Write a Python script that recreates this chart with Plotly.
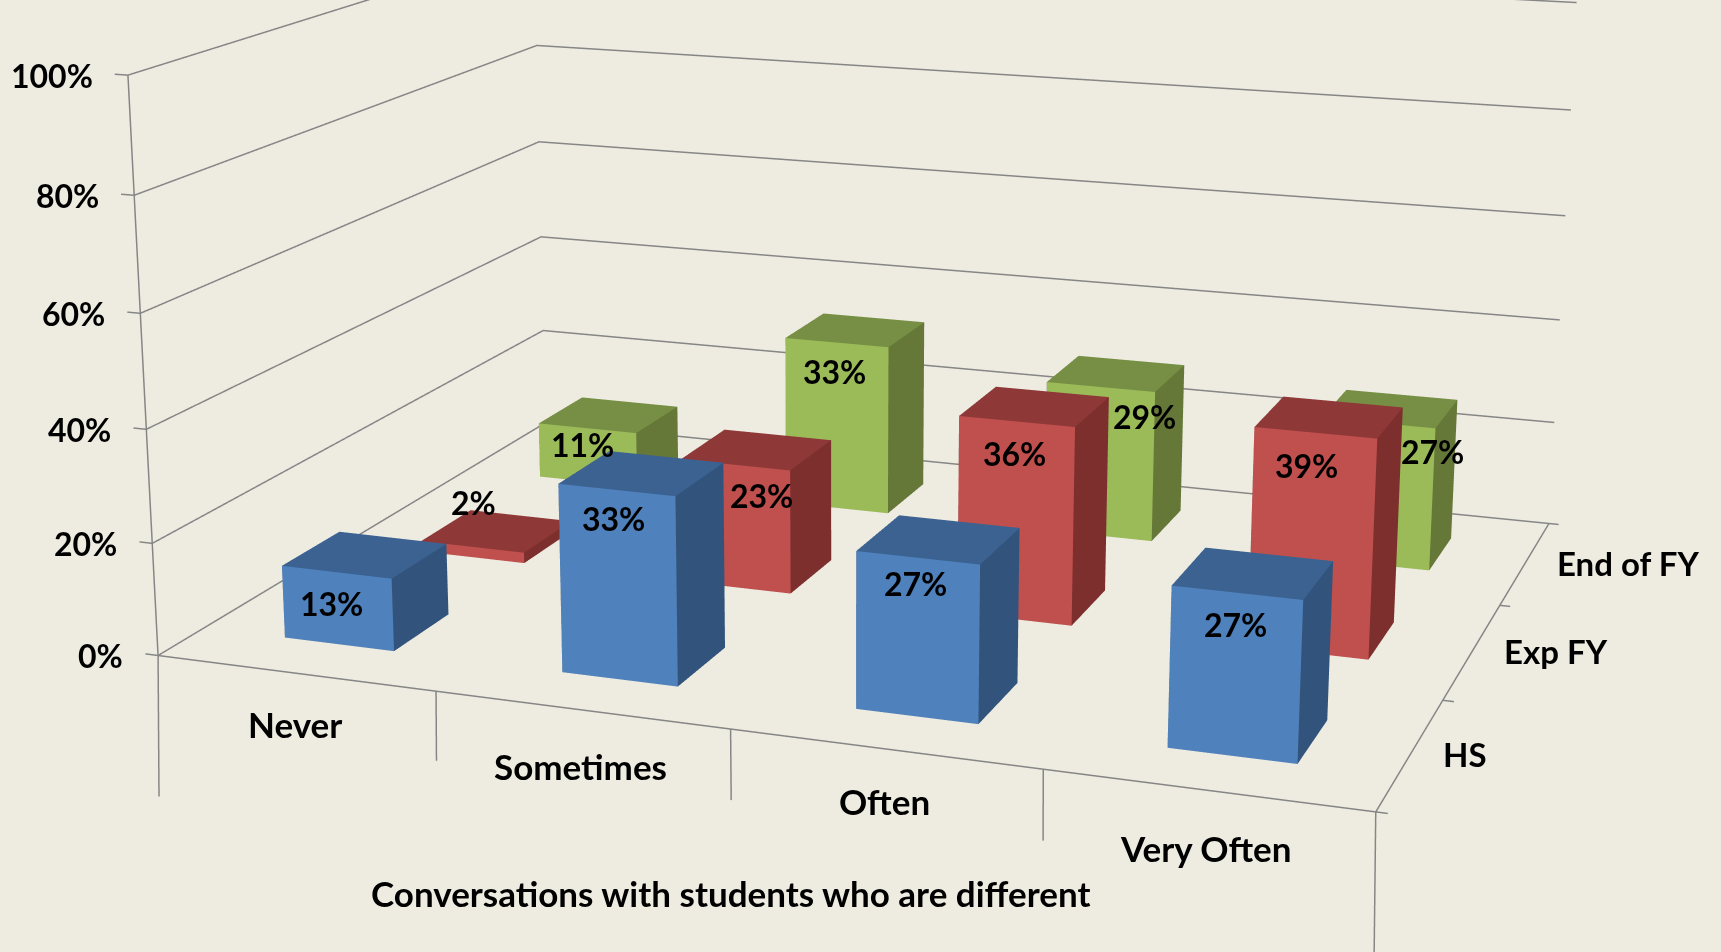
import math
import numpy as np
import plotly.graph_objects as go

categories = ["Never", "Sometimes", "Often", "Very Often"]
series_names = ["HS", "Exp FY", "End of FY"]
hs_values = [13, 33, 27, 27]
exp_fy_values = [2, 23, 36, 39]
end_fy_values = [11, 33, 29, 27]
z_ticks = [0, 20, 40, 60, 80, 100]
axis_title = "Conversations with students who are different"

W, H = 1721, 952
BG = "#EEECE1"
GRID = "#868686"
FONT = "Lato"


def font(size):
    return dict(family=FONT, size=size, color="black", weight=700)


series = [
    dict(vals=hs_values, front="#4F81BD", top="#3C6291", side="#32547C", dx=[-6, -4, -2, 0], dy=[0, 5, 8, 3]),
    dict(vals=exp_fy_values, front="#C0504D", top="#8E3838", side="#7D2F2E", dx=[2, 26, -2, -8], dy=[13, 0, 0, 0]),
    dict(vals=end_fy_values, front="#9BBB59", top="#778F44", side="#657838", dx=[-5, -2, 44, 56], dy=[11, 0, 0, 2]),
]
cat_dy = [5, 1, 7, 3]
cat_dx = [-2, -2, 0, 1]
BAR_W, BAR_D = 0.40, 0.40
# foot of each vertical drop line under the front edge: (x, z)
drops = [(-0.024, -25.8), (0.994, -12.3), (2.0, -12.2), (3.003, -11.9), (4.0165, -31)]

# Excel's projection of the chart box, calibrated on the box corners (x, y, z%, px, py)
calib = np.array([
    (0, 0, 0, 158.7, 655), (1, 0, 0, 436, 691.7), (2, 0, 0, 730, 730), (3, 0, 0, 1043, 768),
    (4, 0, 0, 1376, 812.7), (4, 1, 0, 1443.3, 700), (4, 2, 0, 1500, 605), (4, 3, 0, 1548, 523),
    (0, 0, 20, 151.7, 542.7), (0, 0, 40, 146.5, 429), (0, 0, 60, 140.3, 313.3),
    (0, 0, 80, 134, 195.3), (0, 0, 100, 128, 76),
    (0, 3, 0, 545, 425), (0, 3, 20, 543.3, 330), (0, 3, 40, 541.7, 236),
    (0, 3, 60, 538.7, 141.7), (0, 3, 80, 536.7, 45),
    (4, 3, 20, 1554.7, 422.5), (4, 3, 40, 1560, 320), (4, 3, 60, 1565.3, 216),
    (4, 3, 80, 1570.7, 110.4), (4, 3, 100, 1576.7, 2.5),
])
rows = []
for x, y, z, u, v in calib:
    u, v = u / 1000, v / 1000
    rows.append([x, y, z / 50, 1, 0, 0, 0, 0, -u * x, -u * y, -u * z / 50, -u])
    rows.append([0, 0, 0, 0, x, y, z / 50, 1, -v * x, -v * y, -v * z / 50, -v])
P = np.linalg.svd(np.array(rows))[2][-1].reshape(3, 4)
P = np.diag([1000, 1000, 1]) @ P @ np.diag([1, 1, 1 / 50, 1])
if P[2] @ np.array([2, 1.5, 0, 1]) < 0:
    P = -P

# plotly's 45 degree camera: the remaining part of the projection becomes a lean of the x/y axes
f = (H / 2) / math.tan(math.pi / 8)
K = np.array([[f, 0, W / 2], [0, -f, H / 2], [0, 0, 1.0]])
Kinv = np.linalg.inv(K)
Q = Kinv @ P[:, :3]
tau = Kinv @ P[:, 3]
R, U = np.linalg.qr(Q)
D = np.diag(np.sign(np.diag(U)))
R, U = R @ D, D @ U
k_xy, k_xz, k_yz = U[0, 1] / U[0, 0], U[0, 2] / U[0, 0], U[1, 2] / U[1, 1]


def sx(x, y, z):
    return x + k_xy * y + k_xz * z


def sy(y, z):
    return y + k_yz * z


ZR = (-32.0, 105.0)
corners = [(x, y, z) for x in (-0.2, 4.2) for y in (-0.2, 3.2) for z in ZR]
XR = (min(sx(*c) for c in corners), max(sx(*c) for c in corners))
YR = (min(sy(c[1], c[2]) for c in corners), max(sy(c[1], c[2]) for c in corners))
ranges = [XR, YR, ZR]
lam = 1.0 / (U[2, 2] * (ZR[1] - ZR[0]))
aspect = [lam * U[i, i] * (ranges[i][1] - ranges[i][0]) for i in range(3)]
b = np.array([-lam * U[i, i] * (ranges[i][0] + ranges[i][1]) / 2 for i in range(3)])
eye = b - lam * R.T @ tau
cen = eye + R[2] * np.linalg.norm(eye)
up = R[1]

fig = go.Figure()

# walls, floor and axis marks
lx, ly, lz = [], [], []


def seg(*pts):
    for x, y, z in pts:
        lx.append(sx(x, y, z))
        ly.append(sy(y, z))
        lz.append(z)
    lx.append(None)
    ly.append(None)
    lz.append(None)


for z in z_ticks:
    seg((-0.047, 0, z), (0, 0, z), (0, 3, z), (4, 3, z))
seg((0, 0, 0), (0, 0, 100))
seg((0, 0, 0), (4, 0, 0), (4, 3, 0), (4.035, 3, 0))
for c, (dx_end, dz_end) in enumerate(drops):
    seg((c, 0, 0), (dx_end, 0, dz_end))
for y in (0, 1, 2):
    seg((4, y, 0), (4.035, y, 0))
fig.add_trace(go.Scatter3d(x=lx, y=ly, z=lz, mode="lines", line=dict(color=GRID, width=3),
                           hoverinfo="skip", showlegend=False))

annotations = []
for k, s in enumerate(series):
    vx, vy, vz, ii, jj, kk, fc = [], [], [], [], [], [], []
    y0, y1 = k + 0.5 - BAR_D / 2, k + 0.5 + BAR_D / 2
    for c, v in enumerate(s["vals"]):
        x0, x1 = c + 0.5 - BAR_W / 2, c + 0.5 + BAR_W / 2
        n = len(vx)
        for x, y, z in [(x0, y0, 0), (x1, y0, 0), (x1, y1, 0), (x0, y1, 0),
                        (x0, y0, v), (x1, y0, v), (x1, y1, v), (x0, y1, v)]:
            vx.append(sx(x, y, z))
            vy.append(sy(y, z))
            vz.append(z)
        faces = [((0, 1, 5), s["front"]), ((0, 5, 4), s["front"]),
                 ((4, 5, 6), s["top"]), ((4, 6, 7), s["top"]),
                 ((1, 2, 6), s["side"]), ((1, 6, 5), s["side"]),
                 ((3, 0, 4), s["side"]), ((3, 4, 7), s["side"]),
                 ((2, 3, 7), s["side"]), ((2, 7, 6), s["side"]),
                 ((0, 1, 2), s["side"]), ((0, 2, 3), s["side"])]
        for (a, bb, cc), col in faces:
            ii.append(n + a)
            jj.append(n + bb)
            kk.append(n + cc)
            fc.append(col)
        zl = v + 6 if v < 5 else v - 5.7
        xl, yl = c + 0.5, y0
        annotations.append(dict(x=sx(xl, yl, zl), y=sy(yl, zl), z=zl, text=f"{v}%", showarrow=False,
                                xshift=s["dx"][c], yshift=s["dy"][c], font=font(32)))
    fig.add_trace(go.Mesh3d(x=vx, y=vy, z=vz, i=ii, j=jj, k=kk, facecolor=fc, flatshading=True,
                            lighting=dict(ambient=1, diffuse=0, specular=0, fresnel=0, roughness=1),
                            hoverinfo="skip", showscale=False, name=series_names[k]))

for z in z_ticks:
    annotations.append(dict(x=sx(0, 0, z), y=sy(0, z), z=z, text=f"{z}%", showarrow=False,
                            xanchor="right", xshift=-33, font=font(32)))
for c, name in enumerate(categories):
    z = -10
    annotations.append(dict(x=sx(c + 0.5, 0, z), y=sy(0, z), z=z, text=name, showarrow=False,
                            xshift=cat_dx[c], yshift=cat_dy[c], font=font(35)))
for k, name in enumerate(series_names):
    annotations.append(dict(x=sx(4, k + 0.5, 0), y=sy(k + 0.5, 0), z=0, text=name, showarrow=False,
                            xanchor="left", xshift=30, font=font(33)))

hidden = dict(visible=False, showbackground=False, showgrid=False, zeroline=False, showspikes=False)
fig.update_layout(
    width=W, height=H, autosize=False, margin=dict(l=0, r=0, t=0, b=0, pad=0),
    paper_bgcolor=BG, showlegend=False,
    scene=dict(
        domain=dict(x=[0, 1], y=[0, 1]), bgcolor=BG, dragmode="orbit",
        xaxis=dict(range=list(XR), **hidden), yaxis=dict(range=list(YR), **hidden),
        zaxis=dict(range=list(ZR), **hidden),
        aspectmode="manual", aspectratio=dict(x=aspect[0], y=aspect[1], z=aspect[2]),
        camera=dict(projection=dict(type="perspective"),
                    eye=dict(x=eye[0], y=eye[1], z=eye[2]),
                    center=dict(x=cen[0], y=cen[1], z=cen[2]),
                    up=dict(x=up[0], y=up[1], z=up[2])),
        annotations=annotations,
    ),
    annotations=[dict(text=axis_title, xref="paper", yref="paper", x=730 / W, y=1 - 893 / H,
                      xanchor="center", yanchor="middle", showarrow=False, font=font(35))],
)
fig.write_html("out.html", config=dict(displayModeBar=False),
               post_script="document.body.style.margin='0';document.body.style.background='" + BG + "';")
